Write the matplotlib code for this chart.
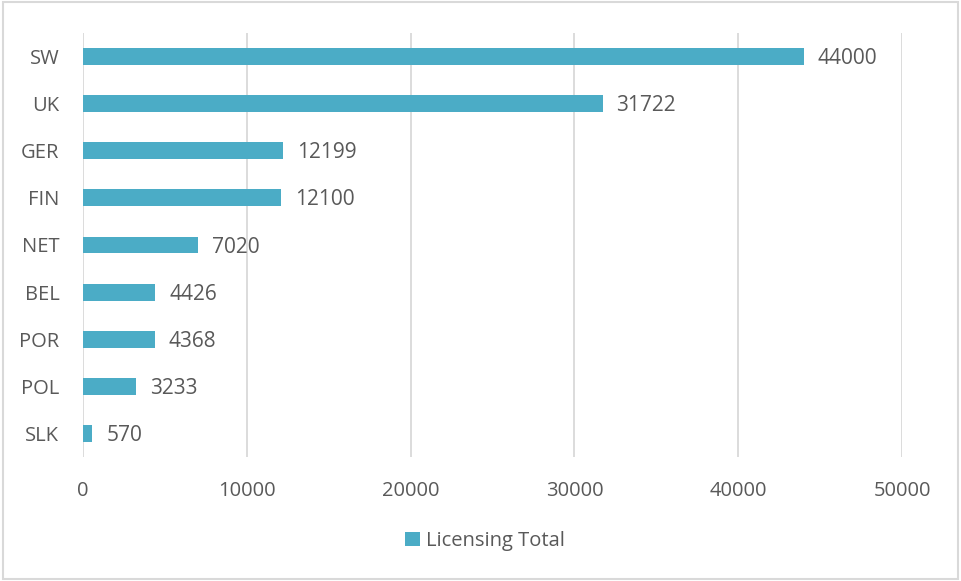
import matplotlib.pyplot as plt
from matplotlib.patches import Rectangle

countries = ["SW", "UK", "GER", "FIN", "NET", "BEL", "POR", "POL", "SLK"]
totals = [44000, 31722, 12199, 12100, 7020, 4426, 4368, 3233, 570]
x_ticks = [0, 10000, 20000, 30000, 40000, 50000]

bar_color = "#4BACC6"
text_color = "#595959"
grid_color = "#D9D9D9"

plt.rcParams["font.family"] = ["Open Sans", "DejaVu Sans"]

fig = plt.figure(figsize=(9.61, 5.81), dpi=100)
ax = fig.add_axes([83 / 961, 124 / 581, 819 / 961, 424 / 581])

# reverse so the first country sits at the top
ypos = list(range(len(countries)))[::-1]
bars = ax.barh(ypos, totals, height=0.36, color=bar_color, label="Licensing Total", zorder=3)

for b, v in zip(bars, totals):
    ax.annotate(str(v), (b.get_width(), b.get_y() + b.get_height() / 2),
                xytext=(10, -1.5), textcoords="offset points", va="center", ha="left",
                fontsize=15, color=text_color)

ax.set_xlim(0, 50000)
ax.set_ylim(-0.5, len(countries) - 0.5)
ax.set_xticks(x_ticks)
ax.set_xticklabels([str(t) for t in x_ticks])
ax.set_yticks(ypos)
ax.set_yticklabels(countries)
ax.tick_params(axis="both", length=0, labelsize=14.5, labelcolor=text_color)
ax.tick_params(axis="x", pad=17)
ax.tick_params(axis="y", pad=17)

ax.grid(axis="x", color=grid_color, linewidth=1.3, zorder=0)
for s in ax.spines.values():
    s.set_visible(False)

leg = fig.legend(handles=[bars], labels=["Licensing Total"], loc="center",
                 bbox_to_anchor=(485 / 961, 1 - 541 / 581), frameon=False,
                 fontsize=14.5, handlelength=0.7, handleheight=0.7, handletextpad=0.3)
for t in leg.get_texts():
    t.set_color(text_color)

# light frame around the whole chart
fig.patches.append(Rectangle((0.003, 0.003), 0.994, 0.994, transform=fig.transFigure,
                             fill=False, edgecolor=grid_color, linewidth=1.5))

fig.savefig("out.png", dpi=100)
